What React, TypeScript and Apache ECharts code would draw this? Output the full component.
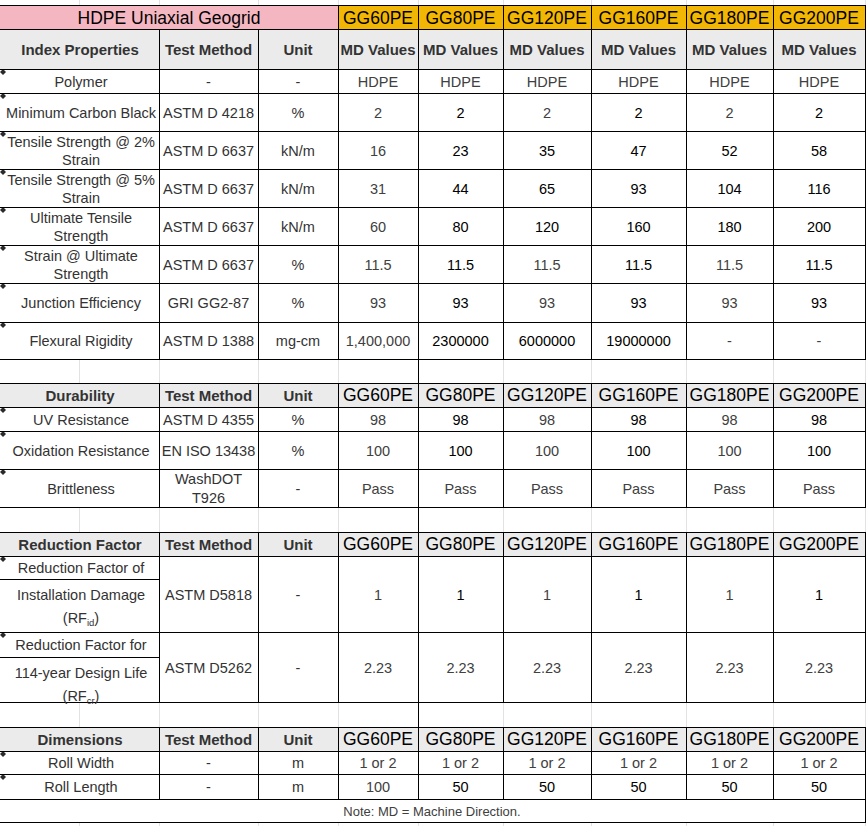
import React, { useEffect, useRef } from "react";
import * as echarts from "echarts";

// ---------- DATA ----------
const title = "HDPE Uniaxial Geogrid";
const products = ["GG60PE", "GG80PE", "GG120PE", "GG160PE", "GG180PE", "GG200PE"];
const valueHeader = "MD Values";
const methodHeader = "Test Method";
const unitHeader = "Unit";

const indexHeader = "Index Properties";
const indexProperties = [
  "Polymer",
  "Minimum Carbon Black",
  "Tensile Strength @ 2%\nStrain",
  "Tensile Strength @ 5%\nStrain",
  "Ultimate Tensile\nStrength",
  "Strain @ Ultimate\nStrength",
  "Junction Efficiency",
  "Flexural Rigidity",
];
const indexMethods = ["-", "ASTM D 4218", "ASTM D 6637", "ASTM D 6637", "ASTM D 6637", "ASTM D 6637", "GRI GG2-87", "ASTM D 1388"];
const indexUnits = ["-", "%", "kN/m", "kN/m", "kN/m", "%", "%", "mg-cm"];
const indexValues = [
  ["HDPE", "HDPE", "HDPE", "HDPE", "HDPE", "HDPE"],
  ["2", "2", "2", "2", "2", "2"],
  ["16", "23", "35", "47", "52", "58"],
  ["31", "44", "65", "93", "104", "116"],
  ["60", "80", "120", "160", "180", "200"],
  ["11.5", "11.5", "11.5", "11.5", "11.5", "11.5"],
  ["93", "93", "93", "93", "93", "93"],
  ["1,400,000", "2300000", "6000000", "19000000", "-", "-"],
];

const durabilityHeader = "Durability";
const durabilityProperties = ["UV Resistance", "Oxidation Resistance", "Brittleness"];
const durabilityMethods = ["ASTM D 4355", "EN ISO 13438", "WashDOT\nT926"];
const durabilityUnits = ["%", "%", "-"];
const durabilityValues = [
  ["98", "98", "98", "98", "98", "98"],
  ["100", "100", "100", "100", "100", "100"],
  ["Pass", "Pass", "Pass", "Pass", "Pass", "Pass"],
];

const reductionHeader = "Reduction Factor";
const reductionLabelLines = [
  ["Reduction Factor of", "Installation Damage"],
  ["Reduction Factor for", "114-year Design Life"],
];
const reductionSymbols = [
  ["RF", "id"],
  ["RF", "cr"],
];
const reductionMethods = ["ASTM D5818", "ASTM D5262"];
const reductionUnits = ["-", "-"];
const reductionValues = [
  ["1", "1", "1", "1", "1", "1"],
  ["2.23", "2.23", "2.23", "2.23", "2.23", "2.23"],
];

const dimensionsHeader = "Dimensions";
const dimensionProperties = ["Roll Width", "Roll Length"];
const dimensionMethods = ["-", "-"];
const dimensionUnits = ["m", "m"];
const dimensionValues = [
  ["1 or 2", "1 or 2", "1 or 2", "1 or 2", "1 or 2", "1 or 2"],
  ["100", "50", "50", "50", "50", "50"],
];

const note = "Note: MD = Machine Direction.";

// ---------- STYLE (tone of each value cell: g = grey, b = black) ----------
const indexTone = ["gggggg", "gbgbgb", "gbbbbb", "gbbbbb", "gbbbbb", "gbgbgb", "gbgbgb", "gbbbgg"];
const durabilityTone = ["gbgbgb", "gbgbgb", "gggggg"];
const reductionTone = ["gbgbgb", "gggggg"];
const dimensionTone = ["gggggg", "gbbbbb"];

// ---------- LAYOUT ----------
const W = 867;
const H = 826;
const COLS = [0, 159, 258, 338, 418, 503, 591, 686, 773, 865];
const FONT = "'Liberation Sans', Arial, Helvetica, sans-serif";
const GREY = "#404040";
const LABEL = "#333333";
const BLACK = "#000000";
const HEADER_BG = "#ebebeb";
const PINK = "#f4b7c1";
const YELLOW = "#f2b705";
const LIGHT = "#e2e2e2";

function buildElements() {
  const fills: any[] = [];
  const lines: any[] = [];
  const texts: any[] = [];

  const hLine = (y: number, x1: number, x2: number, color = "#000") =>
    lines.push({ type: "line", silent: true, shape: { x1, y1: y + 0.5, x2, y2: y + 0.5 }, style: { stroke: color, lineWidth: 1 } });
  const vLine = (x: number, y1: number, y2: number, color = "#000") =>
    lines.push({ type: "line", silent: true, shape: { x1: x + 0.5, y1, x2: x + 0.5, y2 }, style: { stroke: color, lineWidth: 1 } });
  const rect = (x: number, y: number, w: number, h: number, fill: string) =>
    fills.push({ type: "rect", silent: true, shape: { x, y, width: w, height: h }, style: { fill } });
  const txt = (x: number, y: number, s: string, size: number, color: string, weight: string = "normal", lh = 18) =>
    texts.push({
      type: "text",
      silent: true,
      x,
      y,
      style: {
        text: s,
        fill: color,
        fontSize: size,
        fontFamily: FONT,
        fontWeight: weight,
        lineHeight: lh,
        align: "center",
        verticalAlign: "middle",
        textAlign: "center",
        textVerticalAlign: "middle",
      },
    });
  const diamond = (top: number) =>
    fills.push({
      type: "polygon",
      silent: true,
      shape: { points: [[3, top], [6, top + 3], [3, top + 6], [0, top + 3]] },
      style: { fill: "#2a2a2a" },
    });

  const colCenter = (i: number) => (COLS[i] + COLS[i + 1]) / 2;
  const labelX = 81;

  // light spreadsheet grid in the empty areas
  const blankBands = [[0, 5], [359, 383], [507, 532], [702, 727], [822, H]];
  blankBands.forEach(([a, b]) => {
    [79, ...COLS.slice(1)].forEach((x) => vLine(x, a, b, LIGHT));
    vLine(418, a, b, a === 0 || a === 822 ? LIGHT : "#000");
  });

  // title row
  rect(0, 5, COLS[3], 24, PINK);
  products.forEach((_, i) => rect(COLS[3 + i], 5, COLS[4 + i] - COLS[3 + i], 24, YELLOW));
  hLine(5, 0, COLS[9]);
  for (let i = 3; i <= 9; i++) vLine(COLS[i], 5, 29);
  txt(COLS[3] / 2, 17.5, title, 17.5, BLACK);
  products.forEach((p, i) => txt(colCenter(3 + i), 17.5, p, 17.5, BLACK));

  const section = (
    headerLabel: string,
    hTop: number,
    bounds: number[],
    valueHeads: string[],
    valueBold: boolean,
    labels: (string | null)[],
    methods: string[],
    units: string[],
    values: string[][],
    tones: string[],
  ) => {
    const hBot = bounds[0];
    const last = bounds[bounds.length - 1];
    rect(0, hTop, COLS[9], hBot - hTop, HEADER_BG);
    hLine(hTop, 0, COLS[9]);
    bounds.forEach((y) => hLine(y, 0, COLS[9]));
    for (let i = 1; i <= 9; i++) vLine(COLS[i], hTop, last + 1);
    const hc = (hTop + hBot) / 2;
    txt(80, hc, headerLabel, 15, LABEL, "bold");
    txt(colCenter(1), hc, methodHeader, 15, LABEL, "bold");
    txt(colCenter(2), hc, unitHeader, 15, LABEL, "bold");
    valueHeads.forEach((v, i) =>
      valueBold ? txt(colCenter(3 + i), hc, v, 15, LABEL, "bold") : txt(colCenter(3 + i), hc, v, 17.5, BLACK),
    );
    for (let r = 0; r < bounds.length - 1; r++) {
      const top = bounds[r];
      const c = (bounds[r] + bounds[r + 1]) / 2;
      diamond(top);
      const l = labels[r];
      if (l !== null) txt(labelX, c + 0.5, l, 14.5, LABEL);
      txt(colCenter(1), c + 0.5, methods[r], 14.5, LABEL, "normal", 19);
      txt(colCenter(2), c + 0.5, units[r], 14.5, LABEL);
      values[r].forEach((v, i) => txt(colCenter(3 + i), c + 0.5, v, 14.5, tones[r][i] === "b" ? BLACK : GREY));
    }
  };

  section(indexHeader, 29, [69, 93, 131, 169, 207, 245, 283, 322, 359], products.map(() => valueHeader), true,
    indexProperties, indexMethods, indexUnits, indexValues, indexTone);
  section(durabilityHeader, 383, [407, 431, 469, 507], products, false,
    durabilityProperties, durabilityMethods, durabilityUnits, durabilityValues, durabilityTone);
  section(reductionHeader, 532, [556, 632, 702], products, false,
    reductionLabelLines.map(() => null), reductionMethods, reductionUnits, reductionValues, reductionTone);
  section(dimensionsHeader, 727, [751, 774, 799], products, false,
    dimensionProperties, dimensionMethods, dimensionUnits, dimensionValues, dimensionTone);

  // reduction factor labels: three stacked lines in the first column
  const rfBands = [[556, 579, 632], [632, 657, 702]];
  rfBands.forEach(([top, mid], r) => {
    hLine(mid, 0, COLS[1]);
    txt(labelX, (top + mid) / 2 + 0.5, reductionLabelLines[r][0], 14.5, LABEL);
    txt(labelX, mid + 16, reductionLabelLines[r][1], 14.5, LABEL);
    texts.push({
      type: "text",
      silent: true,
      x: labelX,
      y: mid + 39,
      style: {
        text: `{a|(${reductionSymbols[r][0]}}{s|${reductionSymbols[r][1]}}{a|)}`,
        align: "center",
        verticalAlign: "middle",
        textAlign: "center",
        textVerticalAlign: "middle",
        rich: {
          a: { fontSize: 14.5, fontFamily: FONT, fill: LABEL, lineHeight: 18 },
          s: { fontSize: 9.5, fontFamily: FONT, fill: LABEL, lineHeight: 12, verticalAlign: "bottom" },
        },
      },
    });
  });

  // note row
  vLine(COLS[9], 799, 823);
  hLine(822, 0, COLS[9]);
  txt(432, 811, note, 13, GREY);

  return [...fills, ...lines, ...texts];
}

export default function App() {
  const ref = useRef<HTMLDivElement>(null);
  useEffect(() => {
    if (!ref.current) return;
    const chart = echarts.init(ref.current, undefined, { renderer: "svg", width: W, height: H });
    chart.setOption({
      animation: false,
      backgroundColor: "#ffffff",
      graphic: { elements: buildElements() },
    });
    return () => chart.dispose();
  }, []);
  return <div ref={ref} style={{ position: "absolute", left: 0, top: 0, width: W, height: H }} />;
}
